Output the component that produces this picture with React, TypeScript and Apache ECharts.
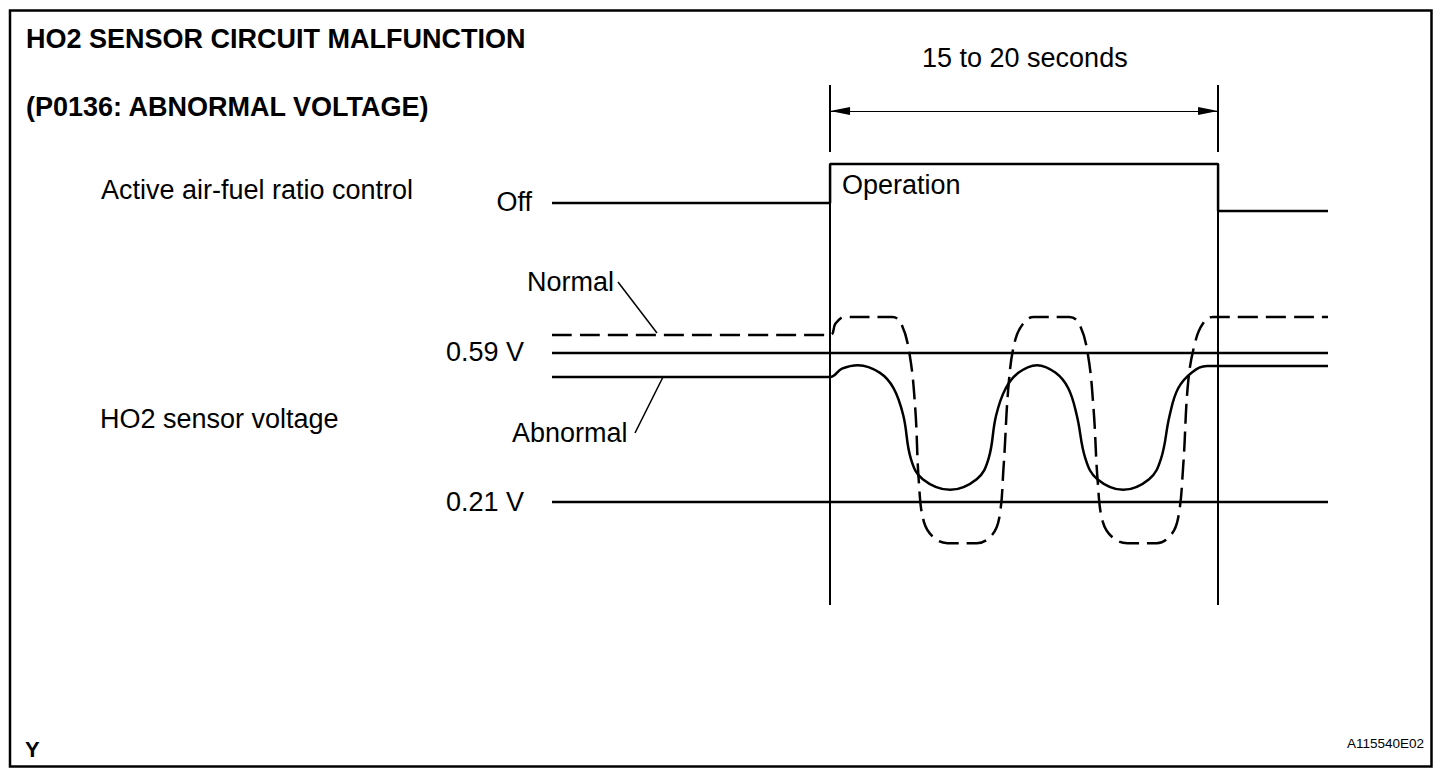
import React, { useEffect, useRef } from "react";
import * as echarts from "echarts";

// ---- Data (time in s from start of active control, voltage in V) ----
const X_MIN = -12.9;
const X_MAX = 23.1;
const OP_START = 0;
const OP_END = 18;

const CONTROL_T = [-12.9, 0, 0, 18, 18, 23.1];
const CONTROL_STATE = [0, 0, 1, 1, -0.205, -0.205];

const REF_HIGH = 0.59;
const REF_LOW = 0.21;

const NORMAL_T = [-12.9, 0, 0.25, 0.7, 2.9, 3.3, 3.68, 3.95, 4.12, 4.35, 4.8, 5.45, 6.8, 7.5, 7.85, 8.05, 8.3, 8.6, 9.0, 9.45, 11.1, 11.55, 11.95, 12.22, 12.42, 12.65, 13.1, 13.8, 15.15, 15.8, 16.15, 16.38, 16.62, 16.95, 17.3, 17.75, 23.1];
const NORMAL_V = [0.636, 0.636, 0.665, 0.682, 0.682, 0.665, 0.59, 0.45, 0.26, 0.16, 0.12, 0.105, 0.105, 0.125, 0.17, 0.3, 0.52, 0.625, 0.668, 0.682, 0.682, 0.665, 0.59, 0.45, 0.26, 0.16, 0.12, 0.105, 0.105, 0.125, 0.17, 0.3, 0.52, 0.62, 0.665, 0.682, 0.682];

const ABNORMAL_T = [-12.9, 0, 0.55, 1.3, 2.3, 2.95, 3.4, 3.75, 4.3, 5.57, 6.8, 7.35, 7.7, 8.15, 8.75, 9.6, 10.45, 11.05, 11.45, 11.85, 12.4, 13.6, 14.8, 15.35, 15.75, 16.15, 16.8, 17.5, 23.1];
const ABNORMAL_V = [0.529, 0.529, 0.55, 0.559, 0.54, 0.5, 0.43, 0.32, 0.268, 0.241, 0.268, 0.32, 0.43, 0.5, 0.54, 0.559, 0.54, 0.5, 0.43, 0.32, 0.268, 0.241, 0.268, 0.32, 0.43, 0.5, 0.541, 0.557, 0.557];

const V_MIN = -0.0527;
const V_MAX = 1.2735;
const GUIDE_GAP_TOP = 1.1026;
const GUIDE_GAP_BOTTOM = 1.072;
const ARROW_V = 1.2072;

const C_MIN = -10.308;
const C_MAX = 3.026;

const FONT = "'Liberation Sans', Arial, Helvetica, sans-serif";

const zip = (a: number[], b: number[]) => a.map((v, i) => [v, b[i]]);

export default function App() {
  const ref = useRef<HTMLDivElement>(null);
  useEffect(() => {
    document.body.style.margin = "0";
    document.body.style.overflow = "hidden";
    const chart = echarts.init(ref.current!, undefined, { renderer: "svg" });
    const lineStyle = { color: "#000", width: 2.5 };
    const txt = (text: string, x: number, y: number, size = 27, bold = false, align = "left") => ({
      type: "text",
      x,
      y,
      style: {
        text,
        fill: "#000",
        font: `${bold ? "bold " : ""}${size}px ${FONT}`,
        textAlign: align,
        textVerticalAlign: "middle",
        verticalAlign: "middle",
      },
    });
    chart.setOption({
      animation: false,
      backgroundColor: "#fff",
      grid: { left: 552, top: 85, width: 776, height: 520 },
      xAxis: { type: "value", min: X_MIN, max: X_MAX, show: false },
      yAxis: [
        { type: "value", min: V_MIN, max: V_MAX, show: false },
        { type: "value", min: C_MIN, max: C_MAX, show: false },
      ],
      series: [
        {
          type: "line",
          yAxisIndex: 1,
          data: zip(CONTROL_T, CONTROL_STATE),
          showSymbol: false,
          lineStyle,
          silent: true,
        },
        {
          type: "line",
          data: [[X_MIN, REF_HIGH], [X_MAX, REF_HIGH]],
          showSymbol: false,
          lineStyle,
          silent: true,
        },
        {
          type: "line",
          data: [[X_MIN, REF_LOW], [X_MAX, REF_LOW]],
          showSymbol: false,
          lineStyle,
          silent: true,
        },
        {
          type: "line",
          data: zip(NORMAL_T, NORMAL_V),
          showSymbol: false,
          smooth: 0.4,
          lineStyle: { ...lineStyle, type: [20, 8] },
          silent: true,
        },
        {
          type: "line",
          data: zip(ABNORMAL_T, ABNORMAL_V),
          showSymbol: false,
          smooth: 0.4,
          lineStyle,
          silent: true,
        },
        {
          type: "line",
          data: [],
          silent: true,
          markLine: {
            silent: true,
            symbol: "none",
            label: { show: false },
            lineStyle: { color: "#000", width: 2, type: "solid" },
            data: [
              [{ coord: [OP_START, V_MAX] }, { coord: [OP_START, GUIDE_GAP_TOP] }],
              [{ coord: [OP_START, GUIDE_GAP_BOTTOM] }, { coord: [OP_START, V_MIN] }],
              [{ coord: [OP_END, V_MAX] }, { coord: [OP_END, GUIDE_GAP_TOP] }],
              [{ coord: [OP_END, GUIDE_GAP_BOTTOM] }, { coord: [OP_END, V_MIN] }],
            ],
          },
        },
        {
          type: "line",
          data: [],
          silent: true,
          markLine: {
            silent: true,
            symbol: ["triangle", "triangle"],
            symbolSize: [8, 20],
            symbolOffset: [[0, 10], [0, 10]],
            label: { show: false },
            lineStyle: { color: "#000", width: 1.2, type: "solid" },
            data: [[{ coord: [OP_START, ARROW_V] }, { coord: [OP_END, ARROW_V] }]],
          },
        },
      ],
      graphic: [
        { type: "rect", shape: { x: 10, y: 10.5, width: 1421.5, height: 756 }, style: { fill: "none", stroke: "#000", lineWidth: 2.5 } },
        txt("HO2 SENSOR CIRCUIT MALFUNCTION", 26, 39, 27, true),
        txt("(P0136: ABNORMAL VOLTAGE)", 26, 107, 27, true),
        txt("15 to 20 seconds", 922, 58),
        txt("Active air-fuel ratio control", 101, 190),
        txt("Off", 532, 202, 27, false, "right"),
        txt("Operation", 842, 185),
        txt("Normal", 527, 282),
        txt("Abnormal", 512, 433),
        txt("0.59 V", 524, 352, 27, false, "right"),
        txt("0.21 V", 524, 502, 27, false, "right"),
        txt("HO2 sensor voltage", 100, 419),
        txt("Y", 25, 749, 22, true),
        txt("A115540E02", 1424, 743, 13.5, false, "right"),
        { type: "line", shape: { x1: 618, y1: 282, x2: 657, y2: 333 }, style: { stroke: "#000", lineWidth: 1.5 } },
        { type: "line", shape: { x1: 635, y1: 433, x2: 663, y2: 377 }, style: { stroke: "#000", lineWidth: 1.5 } },
      ],
    });
    return () => chart.dispose();
  }, []);
  return <div ref={ref} style={{ width: 1456, height: 780 }} />;
}
